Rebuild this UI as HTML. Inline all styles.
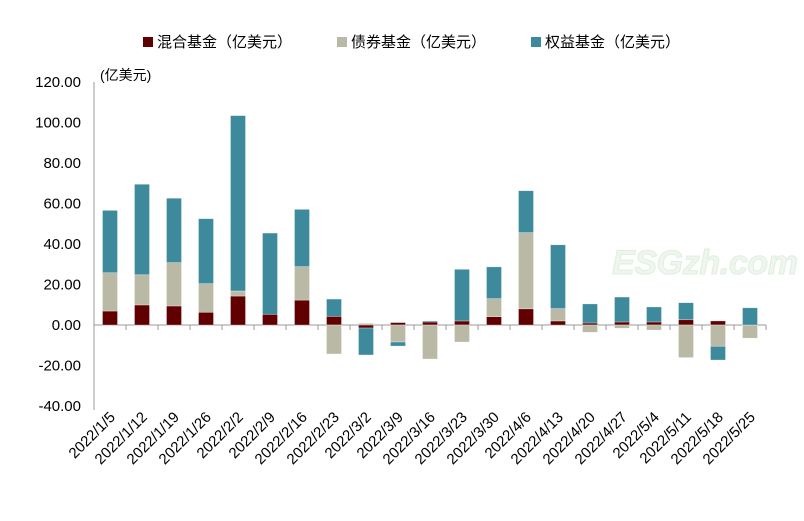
<!DOCTYPE html>
<html><head><meta charset="utf-8"><style>
body{margin:0;background:#fff;}
svg text{font-family:"Liberation Sans","Noto Sans CJK SC",sans-serif;}
</style></head><body>
<svg id="c" width="804" height="516" xmlns="http://www.w3.org/2000/svg">
<g>
<rect x="143" y="37" width="10" height="10" fill="#600000"/>
<text x="157" y="47" font-size="15" fill="#000">混合基金（亿美元）</text>
<rect x="337" y="37" width="10" height="10" fill="#bab9a6"/>
<text x="351" y="47" font-size="15" fill="#000">债券基金（亿美元）</text>
<rect x="531" y="37" width="10" height="10" fill="#3d8a9c"/>
<text x="545" y="47" font-size="15" fill="#000">权益基金（亿美元）</text>
</g>
<text x="100" y="80" font-size="14" fill="#000">(亿美元)</text>
<text x="612" y="274" font-size="34" font-style="italic" font-weight="bold" fill="#eef6ee" stroke="#e0eee0" font-family="Liberation Serif,serif" textLength="186">ESGzh.com</text>
<g id="axes"></g>
<g id="bars"></g>
</svg>
<script>
const categories=["2022/1/5","2022/1/12","2022/1/19","2022/1/26","2022/2/2","2022/2/9","2022/2/16","2022/2/23","2022/3/2","2022/3/9","2022/3/16","2022/3/23","2022/3/30","2022/4/6","2022/4/13","2022/4/20","2022/4/27","2022/5/4","2022/5/11","2022/5/18","2022/5/25"];
const mixed=[6.9,9.9,9.4,6.3,14.3,5.3,12.3,4.3,-1.5,1.2,1.5,2.0,4.1,8.0,2.0,1.0,1.5,1.5,2.6,2.0,0];
const bond=[18.9,14.9,21.4,14.1,2.5,0,16.5,-14.3,0.8,-8.4,-16.8,-8.4,8.9,37.6,6.1,-3.6,-1.6,-2.5,-16.1,-10.5,-6.5];
const equity=[30.8,44.7,31.8,32.1,86.6,40.1,28.3,8.5,-13.3,-2.0,0.5,25.5,15.7,20.7,31.5,9.4,12.3,7.4,8.4,-6.8,8.5];
const yTicks=[-40,-20,0,20,40,60,80,100,120];
const yLabels=["-40.00","-20.00","0.00","20.00","40.00","60.00","80.00","100.00","120.00"];
const NS="http://www.w3.org/2000/svg";
const x0=94,x1=766,yTop=82,yBot=406;
const y=v=>325-v*(325-yTop)/120;
const step=(x1-x0)/categories.length;
const xc=i=>x0+step*(i+0.5);
const ax=document.getElementById('axes'),bg=document.getElementById('bars');
function mk(tag,attrs,parent){const e=document.createElementNS(NS,tag);for(const k in attrs)e.setAttribute(k,attrs[k]);parent.appendChild(e);return e;}
const yl=mk('line',{x1:x0,y1:yTop,x2:x0,y2:yBot+4,stroke:'#999','stroke-width':1},ax);


yTicks.forEach((t,k)=>{
 const tx=mk('text',{x:x0-13,y:y(t)+5,'font-size':15,'text-anchor':'end',fill:'#000'},ax);
 tx.textContent=yLabels[k];
 
 
});
const xl=mk('line',{x1:x0,y1:y(0),x2:x1,y2:y(0),stroke:'#999','stroke-width':1},ax);


categories.forEach((c,i)=>{
 const tk=mk('line',{x1:x0+step*(i+1),y1:y(0),x2:x0+step*(i+1),y2:y(0)+5,stroke:'#999'},ax);
 
 
 const cx=xc(i)+6,cy=418;
 const tx=mk('text',{x:cx,y:cy,'font-size':15,'text-anchor':'end',fill:'#000',transform:`rotate(-45 ${cx} ${cy})`},ax);
 tx.textContent=c;
 
 
});
const series=[[mixed,'#600000','mixed'],[bond,'#bab9a6','bond'],[equity,'#3d8a9c','equity']];
categories.forEach((c,i)=>{
 let pos=0,neg=0;
 series.forEach(([arr,col,nm])=>{
  const v=arr[i]; if(!v)return;
  let a,b;
  if(v>0){a=pos;b=pos+v;pos=b;}else{a=neg;b=neg+v;neg=b;}
  const top=Math.min(y(a),y(b)),h=Math.abs(y(a)-y(b));
  const r=mk('rect',{x:xc(i)-7.5,y:top,width:15,height:h,fill:col,stroke:'#fff','stroke-opacity':0.5,'stroke-width':0.6},bg);
  
  
 });
});
</script>
</body></html>
